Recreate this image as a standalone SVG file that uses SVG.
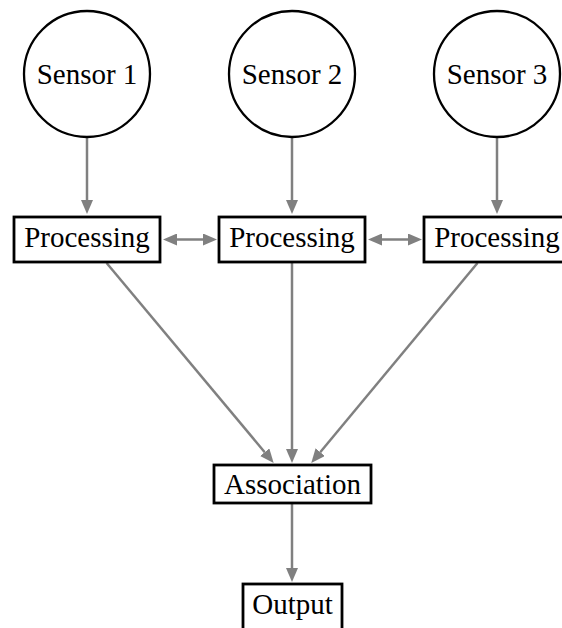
<svg xmlns="http://www.w3.org/2000/svg" width="562" height="628" viewBox="0 0 562 628">
  <style>
    .sensor { fill: #ffffff; stroke: #000000; stroke-width: 2.3; }
    .box { fill: #ffffff; stroke: #000000; stroke-width: 2.8; }
    .label { font-size: 29px; fill: #000000; text-anchor: middle; }
    .edge { stroke: #808080; stroke-width: 2.5; fill: none; }
  </style>
  <defs>
    <marker id="arrow" markerUnits="userSpaceOnUse" markerWidth="14" markerHeight="12" refX="0" refY="6" orient="auto-start-reverse" viewBox="0 0 14 12">
      <path d="M0,0 L14,6 L0,12 z" fill="#808080"/>
    </marker>
  </defs>

  <rect x="0" y="0" width="562" height="628" fill="#ffffff"/>

  <!-- connectors -->
  <g id="edges">
    <line class="edge" x1="87" y1="137" x2="87" y2="200" marker-end="url(#arrow)"/>
    <line class="edge" x1="292" y1="137" x2="292" y2="200" marker-end="url(#arrow)"/>
    <line class="edge" x1="497" y1="137" x2="497" y2="200" marker-end="url(#arrow)"/>
    <line class="edge" x1="177" y1="239.5" x2="203" y2="239.5" marker-start="url(#arrow)" marker-end="url(#arrow)"/>
    <line class="edge" x1="382" y1="239.5" x2="408" y2="239.5" marker-start="url(#arrow)" marker-end="url(#arrow)"/>
    <line class="edge" x1="106.6" y1="263" x2="264.7" y2="452.2" marker-end="url(#arrow)"/>
    <line class="edge" x1="292" y1="263" x2="292" y2="449" marker-end="url(#arrow)"/>
    <line class="edge" x1="477.5" y1="263" x2="320.2" y2="452.2" marker-end="url(#arrow)"/>
    <line class="edge" x1="292" y1="504" x2="292" y2="568" marker-end="url(#arrow)"/>
  </g>

  <g font-family="'Liberation Serif', 'Times New Roman', 'DejaVu Serif', serif">
    <!-- sensors -->
    <g id="sensor1">
      <circle class="sensor" cx="87" cy="74" r="63"/>
      <text class="label" x="87" y="84">Sensor 1</text>
    </g>
    <g id="sensor2">
      <circle class="sensor" cx="292" cy="74" r="63"/>
      <text class="label" x="292" y="84">Sensor 2</text>
    </g>
    <g id="sensor3">
      <circle class="sensor" cx="497" cy="74" r="63"/>
      <text class="label" x="497" y="84">Sensor 3</text>
    </g>

    <!-- processing stages -->
    <g id="processing1">
      <rect class="box" x="14" y="217" width="146" height="45"/>
      <text class="label" x="87" y="247">Processing</text>
    </g>
    <g id="processing2">
      <rect class="box" x="219" y="217" width="146" height="45"/>
      <text class="label" x="292" y="247">Processing</text>
    </g>
    <g id="processing3">
      <rect class="box" x="424" y="217" width="146" height="45"/>
      <text class="label" x="497" y="247">Processing</text>
    </g>

    <!-- fusion and output -->
    <g id="association">
      <rect class="box" x="214" y="465" width="157" height="38"/>
      <text class="label" x="292.5" y="494">Association</text>
    </g>
    <g id="output">
      <rect class="box" x="243" y="584" width="99" height="46"/>
      <text class="label" x="292.5" y="614">Output</text>
    </g>
  </g>
</svg>
